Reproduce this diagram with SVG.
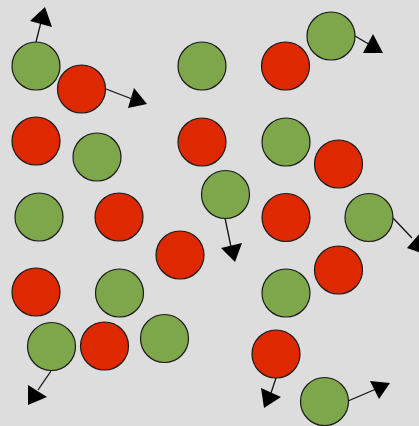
<svg xmlns="http://www.w3.org/2000/svg" width="419" height="426" viewBox="0 0 419 426">
<style>
.g{fill:#7da74a;stroke:#1a1a1a;stroke-width:1.2}
.r{fill:#dd2800;stroke:#1a1a1a;stroke-width:1.2}
.l{stroke:#111;stroke-width:1.3;fill:none}
.h{fill:#000;stroke:none}
</style>
<rect width="419" height="426" fill="#dddddd"/>
<g id="connectors">
<line class="l" x1="36" y1="42" x2="41" y2="22"/><polygon class="h" points="30,21 45,7 52,27"/>
<line class="l" x1="106" y1="89" x2="132" y2="99"/><polygon class="h" points="128,108 134,88 147,104"/>
<line class="l" x1="355" y1="36" x2="372" y2="46"/><polygon class="h" points="363,53 373,34 383,53"/>
<line class="l" x1="225" y1="218" x2="231" y2="247"/><polygon class="h" points="221,248 242,243 235,262"/>
<line class="l" x1="393" y1="218" x2="412" y2="238"/><polygon class="h" points="407,248 421,232 424,254"/>
<line class="l" x1="51" y1="371" x2="38" y2="390"/><polygon class="h" points="28,385 47,397 28,405"/>
<line class="l" x1="276" y1="378" x2="271" y2="393"/><polygon class="h" points="261,388 281,397 264,408"/>
<line class="l" x1="348" y1="401" x2="376" y2="389"/><polygon class="h" points="370,381 390,383 379,399"/>
</g>
<g id="n1"><circle class="g" cx="36" cy="66" r="24"/></g>
<g id="n2"><circle class="r" cx="81.5" cy="89" r="24"/></g>
<g id="n3"><circle class="g" cx="202" cy="66" r="24"/></g>
<g id="n4"><circle class="r" cx="285.5" cy="66" r="24"/></g>
<g id="n5"><circle class="g" cx="331" cy="36" r="24"/></g>
<g id="n6"><circle class="r" cx="36" cy="141" r="24"/></g>
<g id="n7"><circle class="g" cx="97" cy="157" r="24"/></g>
<g id="n8"><circle class="r" cx="202" cy="142" r="24"/></g>
<g id="n9"><circle class="g" cx="286" cy="142" r="24"/></g>
<g id="n10"><circle class="r" cx="338.5" cy="164" r="24"/></g>
<g id="n11"><circle class="g" cx="39" cy="217" r="24"/></g>
<g id="n12"><circle class="r" cx="119" cy="217" r="24"/></g>
<g id="n13"><circle class="g" cx="225.5" cy="194.5" r="24"/></g>
<g id="n14"><circle class="r" cx="286" cy="217.5" r="24"/></g>
<g id="n15"><circle class="g" cx="369" cy="217.5" r="24"/></g>
<g id="n16"><circle class="r" cx="180" cy="255" r="24"/></g>
<g id="n17"><circle class="r" cx="338.5" cy="270" r="24"/></g>
<g id="n18"><circle class="r" cx="36" cy="292" r="24"/></g>
<g id="n19"><circle class="g" cx="119.5" cy="293" r="24"/></g>
<g id="n20"><circle class="g" cx="286" cy="293" r="24"/></g>
<g id="n21"><circle class="g" cx="51.5" cy="346.5" r="24"/></g>
<g id="n22"><circle class="r" cx="104.5" cy="346" r="24"/></g>
<g id="n23"><circle class="g" cx="164.5" cy="338.5" r="24"/></g>
<g id="n24"><circle class="r" cx="276" cy="354" r="24"/></g>
<g id="n25"><circle class="g" cx="324.5" cy="401.5" r="24"/></g>
</svg>
